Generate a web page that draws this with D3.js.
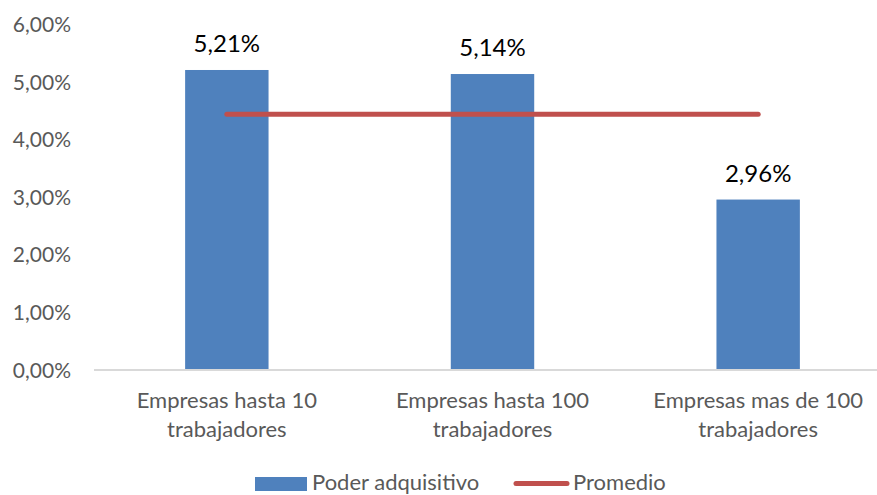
<!DOCTYPE html>
<html>
<head>
<meta charset="utf-8">
<script src="https://cdn.jsdelivr.net/npm/d3@7"></script>
<style>
  body { margin: 0; background: #fff; }
  text { font-family: Lato, "Open Sans", sans-serif; }
</style>
</head>
<body>
<svg id="chart" width="877" height="495"></svg>
<script>
// data
const categories = [
    ["Empresas hasta 10", "trabajadores"],
    ["Empresas hasta 100", "trabajadores"],
    ["Empresas mas de 100", "trabajadores"]
];
const poderAdquisitivo = [5.21, 5.14, 2.96];
const promedio = [4.44, 4.44, 4.44];
const yTicks = [0, 1, 2, 3, 4, 5, 6];
const legendLabels = ["Poder adquisitivo", "Promedio"];

const blue = "#4F81BD", red = "#C0504D", grey = "#595959";
const fmt = v => v.toFixed(2).replace(".", ",") + "%";

let svg = d3.select("#chart");

let x = d3.scaleBand()
    .domain(d3.range(categories.length))
    .range([94, 891])
    .paddingInner(0.686)
    .paddingOuter(0.343);

let y = d3.scaleLinear().domain([0, 6]).range([370, 24.5]);

// y tick labels
svg.append("g").selectAll("text")
    .data(yTicks)
    .enter().append("text")
    .attr("x", 71)
    .attr("y", d => y(d))
    .attr("dy", "0.36em")
    .attr("text-anchor", "end")
    .attr("fill", grey)
    .style("font-size", "21px")
    .text(d => fmt(d));

// bars
svg.append("g").selectAll("rect")
    .data(poderAdquisitivo)
    .enter().append("rect")
    .attr("x", (d, i) => x(i))
    .attr("y", d => y(d))
    .attr("width", x.bandwidth())
    .attr("height", d => y(0) - y(d))
    .attr("fill", blue);

// baseline
svg.append("line")
    .attr("x1", 94).attr("x2", 877)
    .attr("y1", y(0)).attr("y2", y(0))
    .attr("stroke", "#D9D9D9")
    .attr("stroke-width", 2);

// average line
let line = d3.line()
    .x((d, i) => x(i) + x.bandwidth() / 2)
    .y(d => y(d));

svg.append("path")
    .datum(promedio)
    .attr("d", line)
    .attr("fill", "none")
    .attr("stroke", red)
    .attr("stroke-width", 5)
    .attr("stroke-linecap", "round");

// data labels
svg.append("g").selectAll("text")
    .data(poderAdquisitivo)
    .enter().append("text")
    .attr("x", (d, i) => x(i) + x.bandwidth() / 2)
    .attr("y", d => y(d) - 18)
    .attr("text-anchor", "middle")
    .attr("fill", "#000")
    .style("font-size", "24px")
    .text(d => fmt(d));

// category labels
let cats = svg.append("g").selectAll("text")
    .data(categories)
    .enter().append("text")
    .attr("x", (d, i) => x(i) + x.bandwidth() / 2)
    .attr("y", 408)
    .attr("text-anchor", "middle")
    .attr("fill", grey)
    .style("font-size", "22px");

cats.selectAll("tspan")
    .data(d => d)
    .enter().append("tspan")
    .attr("x", function() { return d3.select(this.parentNode).attr("x"); })
    .attr("dy", (d, i) => i == 0 ? 0 : 29)
    .text(d => d);

// legend
let legend = svg.append("g");
legend.append("rect")
    .attr("x", 255).attr("y", 477)
    .attr("width", 52).attr("height", 14)
    .attr("fill", blue);
legend.append("text")
    .attr("x", 312).attr("y", 490)
    .attr("fill", grey)
    .style("font-size", "22px")
    .text(legendLabels[0]);
legend.append("line")
    .attr("x1", 516).attr("x2", 567)
    .attr("y1", 483.5).attr("y2", 483.5)
    .attr("stroke", red)
    .attr("stroke-width", 5)
    .attr("stroke-linecap", "round");
legend.append("text")
    .attr("x", 573).attr("y", 490)
    .attr("fill", grey)
    .style("font-size", "22px")
    .text(legendLabels[1]);
</script>
</body>
</html>
